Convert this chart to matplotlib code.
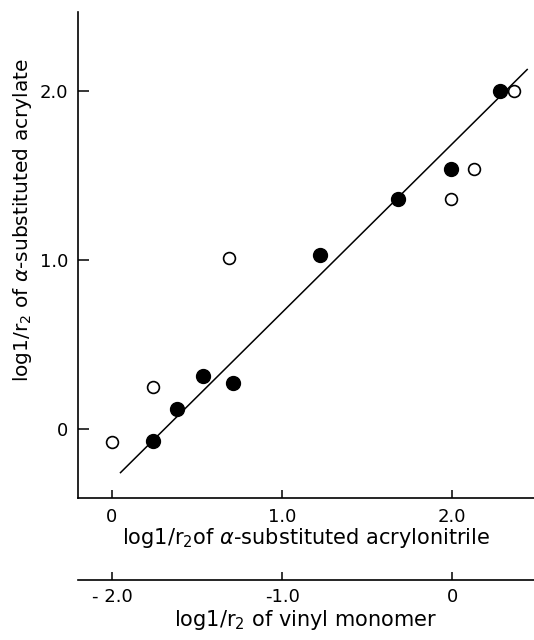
import matplotlib
matplotlib.use('Agg')
import matplotlib.pyplot as plt
import numpy as np

# filled circles: alpha-substituted acrylonitrile vs acrylate
filled_x = [0.24, 0.38, 0.535, 0.71, 1.22, 1.68, 1.99, 2.28]
filled_y = [-0.07, 0.12, 0.31, 0.27, 1.03, 1.36, 1.54, 2.00]
# open circles: vinyl monomer vs acrylate (plotted on the shared scale)
open_x = [0.0, 0.24, 0.69, 1.99, 2.13, 2.36]
open_y = [-0.08, 0.25, 1.01, 1.36, 1.54, 2.00]
# least squares line
fit_x = [0.05, 2.44]
slope, intercept = 1.0, -0.31

xticks = [0, 1.0, 2.0]
xticklabels = ['0', '1.0', '2.0']
yticks = [0, 1.0, 2.0]
yticklabels = ['0', '1.0', '2.0']
vticks = [-2.0, -1.0, 0]
vticklabels = ['- 2.0', '-1.0', '0']

plt.rcParams['font.family'] = 'DejaVu Sans'
plt.rcParams['mathtext.fontset'] = 'dejavusans'

fig = plt.figure(figsize=(5.34, 6.4), dpi=100)
ax = fig.add_axes([0.146, 0.222, 0.854, 0.759])

fx = np.array(fit_x)
ax.plot(fx, slope * fx + intercept, color='black', lw=1.1)
ax.plot(filled_x, filled_y, 'o', color='black', ms=10)
ax.plot(open_x, open_y, 'o', mfc='white', mec='black', mew=1.2, ms=8.5)

ax.set_xlim(-0.2, 2.48)
ax.set_ylim(-0.41, 2.47)
for s in ['top', 'right']:
    ax.spines[s].set_visible(False)
for s in ['left', 'bottom']:
    ax.spines[s].set_linewidth(1.2)

ax.set_xticks(xticks)
ax.set_xticklabels(xticklabels)
ax.set_yticks(yticks)
ax.set_yticklabels(yticklabels)
ax.tick_params(direction='in', length=6, width=1.1, labelsize=13, pad=7)
ax.tick_params(axis='y', length=8)

ax.set_xlabel(r'log1/r$_2$of $\alpha$-substituted acrylonitrile', fontsize=15, labelpad=0)
ax.set_ylabel(r'log1/r$_2$ of $\alpha$-substituted acrylate', fontsize=14.5)
ax.yaxis.set_label_coords(-0.096, 0.572)

sec = ax.secondary_xaxis(-0.169, functions=(lambda x: x - 2.0, lambda v: v + 2.0))
sec.set_xticks(vticks)
sec.set_xticklabels(vticklabels)
sec.spines['bottom'].set_linewidth(1.2)
sec.tick_params(direction='in', length=6, width=1.1, labelsize=13, pad=6)
sec.set_xlabel(r'log1/r$_2$ of vinyl monomer', fontsize=15, labelpad=1)

fig.savefig('out.png', dpi=100)
